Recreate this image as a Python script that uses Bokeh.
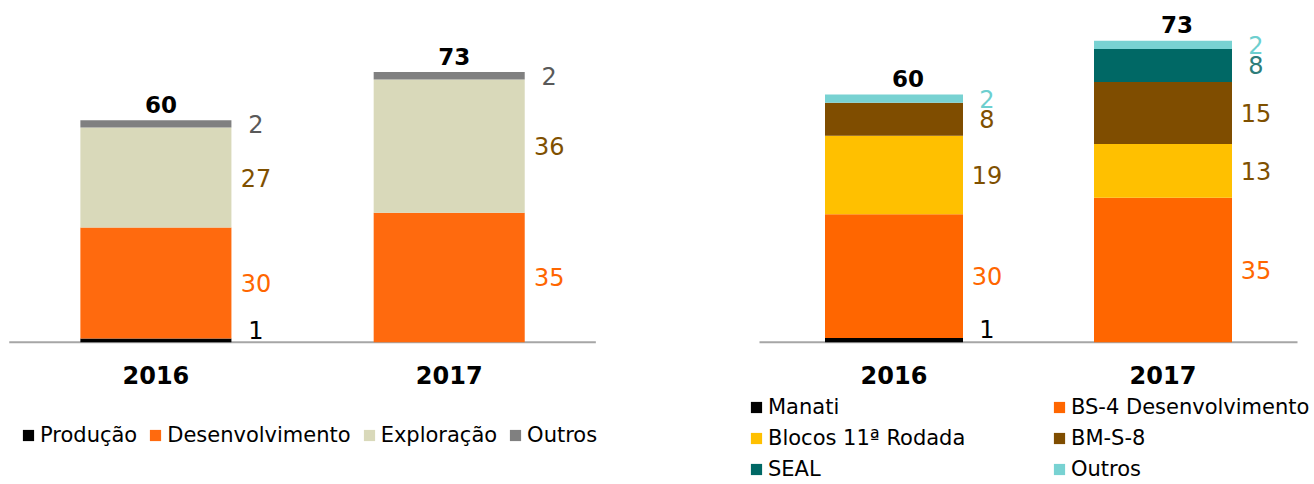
from bokeh.plotting import figure
from bokeh.models import Range1d, Legend, LegendItem, ColumnDataSource, Spacer
from bokeh.layouts import row
from bokeh.embed import file_html
from bokeh.resources import INLINE
from bokeh.core.properties import value

FONT = "DejaVu Sans"

years = ["2016", "2017"]

# ---- left chart: by activity ----
left_keys = ["producao", "desenvolvimento", "exploracao", "outros"]
left_labels = ["Produção", "Desenvolvimento", "Exploração", "Outros"]
producao = [1, 0]
desenvolvimento = [30, 35]
exploracao = [27, 36]
outros_esq = [2, 2]
left_colors = ["#000000", "#FF6A0E", "#D9D9BA", "#808080"]
left_label_colors = ["#000000", "#FF6600", "#7F5000", "#595959"]

# ---- right chart: by asset ----
right_keys = ["manati", "bs4", "blocos11", "bms8", "seal", "outros"]
right_labels = ["Manati", "BS-4 Desenvolvimento", "Blocos 11ª Rodada", "BM-S-8", "SEAL", "Outros"]
manati = [1, 0]
bs4 = [30, 35]
blocos11 = [19, 13]
bms8 = [8, 15]
seal = [0, 8]
outros_dir = [2, 2]
right_colors = ["#000000", "#FF6600", "#FFC000", "#7F4D00", "#006865", "#78D2D2"]
right_label_colors = ["#000000", "#FF6600", "#7F5000", "#7F5000", "#2E7D7A", "#6DCFCF"]

H = 484
BASE_FROM_BOTTOM = 142.3


def make_chart(keys, series, colors, label_colors, px_unit, px_slot, first_center_px,
               fig_w, bar_w, label_dx, total_dx):
    xs = [i + 0.5 for i in range(len(years))]
    x_start = 0.5 - first_center_px / px_slot
    p = figure(width=fig_w, height=H,
               x_range=Range1d(x_start, x_start + fig_w / px_slot),
               y_range=Range1d(-BASE_FROM_BOTTOM / px_unit, (H - BASE_FROM_BOTTOM) / px_unit),
               output_backend="svg", toolbar_location=None,
               x_axis_location=None, y_axis_location=None, min_border=0)
    p.grid.visible = False
    p.outline_line_color = None

    # category axis baseline spanning the category bands
    p.segment(x0=[xs[0] - 0.5], x1=[xs[-1] + 0.5], y0=[0], y1=[0],
              line_color="#A6A6A6", line_width=2)

    data = {"x": xs}
    for k, s in zip(keys, series):
        data[k] = s
    src = ColumnDataSource(data)
    rends = p.vbar_stack(keys, x="x", width=bar_w, color=colors, line_color=None,
                         source=src)

    # segment value labels
    bottoms = [0.0] * len(years)
    mid = dict(x=[], y=[], t=[], c=[])
    low = dict(x=[], y=[], t=[], c=[])
    for vals, lc in zip(series, label_colors):
        for j, v in enumerate(vals):
            if round(v) > 0:
                d = low if v < 1.5 else mid
                d["x"].append(xs[j])
                d["y"].append(bottoms[j] + (v if v < 1.5 else v / 2))
                d["t"].append(str(int(round(v))))
                d["c"].append(lc)
            bottoms[j] += v
    common = dict(text_font=value(FONT), text_font_size="24px", text_align="center",
                  x_offset=label_dx)
    p.text(x="x", y="y", text="t", text_color="c", source=ColumnDataSource(mid),
           text_baseline="middle", **common)
    p.text(x="x", y="y", text="t", text_color="c", source=ColumnDataSource(low),
           text_baseline="bottom", **common)

    # totals
    totals = bottoms
    p.text(x=xs, y=totals, text=[str(int(round(t))) for t in totals],
           text_font=value(FONT), text_font_size="23px", text_font_style="bold",
           text_align="center", text_baseline="middle", text_color="#000000",
           x_offset=total_dx, y_offset=-16)

    # category labels
    p.text(x=xs, y=[0] * len(years), text=years,
           text_font=value(FONT), text_font_size="24px", text_font_style="bold",
           text_align="center", text_baseline="middle", text_color="#000000",
           y_offset=33)
    return p, rends


def make_legend(items, loc, orientation):
    return Legend(items=items, location=loc, orientation=orientation,
                  glyph_width=14, glyph_height=14, label_standoff=5,
                  spacing=7 if orientation == "vertical" else 11,
                  padding=0, margin=0, border_line_color=None, background_fill_alpha=0,
                  label_text_font=FONT, label_text_font_size="21px", label_height=24,
                  label_text_color="#000000")


# left chart canvas: x 0..620
p1, r1 = make_chart(left_keys, [producao, desenvolvimento, exploracao, outros_esq],
                    left_colors, left_label_colors, 3.7, 293.3, 155.4, 620, 0.515, 100, 5)
leg1 = make_legend([LegendItem(label=l, renderers=[r]) for l, r in zip(left_labels, r1)],
                   (21, 37), "horizontal")
p1.add_layout(leg1)

# right chart canvas: x 747..1312
p2, r2 = make_chart(right_keys, [manati, bs4, blocos11, bms8, seal, outros_dir],
                    right_colors, right_label_colors, 4.13, 269.0, 146.5, 565, 0.513, 93, 14)
col1 = [0, 2, 4]
col2 = [1, 3, 5]
leg2a = make_legend([LegendItem(label=right_labels[i], renderers=[r2[i]]) for i in col1],
                    (2, 3), "vertical")
leg2b = make_legend([LegendItem(label=right_labels[i], renderers=[r2[i]]) for i in col2],
                    (305, 3), "vertical")
p2.add_layout(leg2a)
p2.add_layout(leg2b)

layout = row(p1, Spacer(width=127, height=H), p2)

open("out.html", "w").write(file_html(layout, INLINE))
